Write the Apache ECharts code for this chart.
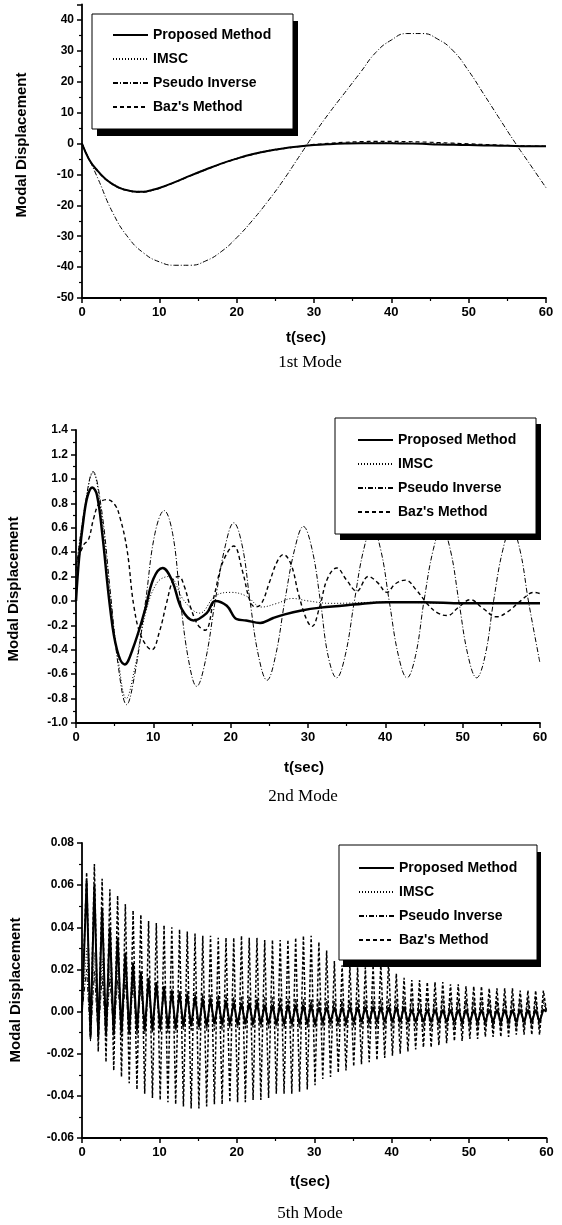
<!DOCTYPE html>
<html><head><meta charset="utf-8">
<script src="https://cdn.jsdelivr.net/npm/echarts@6.0.0/dist/echarts.min.js"></script>
<style>html,body{margin:0;padding:0;background:#fff}#c{width:562px;height:1225px}</style>
</head><body><div id="c"></div>
<script>
const seriesNames = ['Proposed Method', 'IMSC', 'Pseudo Inverse', "Baz's Method"];
const xTicks = [0, 10, 20, 30, 40, 50, 60];

// ---------- Panel 1 (1st Mode) ----------
const p1T = [0,1,2,3,4,5,6,7,8,9,10,12,14,16,18,20,22,24,26,28,30,32,34,36,38,40,42,44,46,48,50,52,54,56,58,60];
const p1Proposed = [0,-5.5,-8.8,-11.4,-13.2,-14.5,-15.2,-15.6,-15.6,-15.1,-14.4,-12.5,-10.4,-8.4,-6.5,-4.9,-3.5,-2.4,-1.6,-1.0,-0.5,-0.2,0,0.1,0.1,0.1,0,-0.1,-0.3,-0.4,-0.5,-0.6,-0.7,-0.8,-0.9,-0.9];
const p1IMSC = [0,-5.3,-8.6,-11.2,-13.0,-14.3,-15.1,-15.5,-15.5,-15.0,-14.3,-12.4,-10.3,-8.3,-6.4,-4.8,-3.4,-2.3,-1.5,-0.9,-0.4,-0.1,0.1,0.2,0.3,0.3,0.2,0.1,0,-0.2,-0.3,-0.5,-0.6,-0.7,-0.8,-0.9];
const p1Baz = [0,-5.6,-8.9,-11.5,-13.3,-14.6,-15.3,-15.7,-15.7,-15.2,-14.5,-12.6,-10.5,-8.5,-6.6,-5.0,-3.6,-2.5,-1.7,-1.0,-0.3,0.1,0.4,0.6,0.7,0.7,0.6,0.5,0.3,0.1,-0.1,-0.3,-0.5,-0.7,-0.8,-0.9];
const p1PseT = [0,2,4,6,8,10,12,14,16,18,20,22,24,26,28,30,32,34,36,38,40,42,44,46,48,50,52,54,56,58,60];
const p1Pseudo = [0,-11,-22.5,-30.5,-35.5,-38.3,-39.4,-39.4,-38,-35,-30.5,-25,-18.8,-12,-4.5,3,10,16.5,23,29.5,33.5,35.6,35.6,33.8,30,23.5,15.8,8,0.3,-7,-14.3];

// ---------- Panel 2 (2nd Mode) ----------
const p2PropT = [0,0.4,1,1.5,2.1,2.7,3.4,4.4,5.3,6.3,7.3,8.9,10,11.2,12.4,13.7,15.2,16.9,18,19.5,20.8,22,23.8,25.5,27,29,31.6,35.9,40.2,45,50,55,60];
const p2Prop = [0,0.35,0.68,0.86,0.93,0.87,0.55,-0.05,-0.4,-0.52,-0.4,-0.08,0.18,0.27,0.17,-0.07,-0.16,-0.1,0.0,-0.04,-0.15,-0.16,-0.18,-0.14,-0.11,-0.08,-0.055,-0.03,-0.01,-0.01,-0.02,-0.02,-0.02];
const p2ImscT = [0,1.1,2.2,3.3,4.4,5.5,6.5,7.6,9,10.5,12,14,16,18,20,22,24,26,28,30,33,40,50,60];
const p2Imsc = [0.25,0.75,1.05,0.7,0.05,-0.5,-0.8,-0.55,-0.1,0.15,0.2,0.0,-0.1,0.04,0.07,0.04,-0.05,-0.02,0.02,0.0,-0.02,-0.01,-0.02,-0.02];
const p2PseT = [0,1.1,2.2,3.3,4.4,5.5,6.55,7.6,9,10.2,11.4,12.5,13.5,14.6,15.6,16.7,18,19.3,20.4,21.5,22.5,23.6,24.7,25.8,27,28.3,29.4,30.5,31.6,32.6,33.7,34.8,36,37.2,38.3,39.4,40.5,41.7,42.8,43.9,45,46.2,47.3,48.4,49.5,50.7,51.8,52.9,54,55.2,56.3,57.4,58.5,60];
const p2Pse = [0.25,0.75,1.06,0.75,0.1,-0.55,-0.85,-0.6,0.0,0.55,0.74,0.55,0.0,-0.5,-0.7,-0.5,0.0,0.45,0.64,0.45,0.0,-0.45,-0.65,-0.45,0.0,0.43,0.61,0.43,0.0,-0.45,-0.63,-0.45,0.0,0.42,0.6,0.42,0.0,-0.45,-0.63,-0.45,0.0,0.42,0.6,0.42,0.0,-0.45,-0.63,-0.45,0.0,0.42,0.6,0.42,0.0,-0.51];
const p2BazT = [0,1,1.6,2.3,3,4,5,5.7,6.6,7.5,8.5,9.8,10.8,11.7,12.6,13.3,14,14.8,15.8,16.7,17.9,19,20.4,21.5,22.5,23.2,24,25,26,26.8,27.8,28.8,29.8,30.5,31.5,32.5,33.7,35,36.3,37.8,39,40.2,41.3,42.6,44,45.5,46.8,48,49.5,51,52.6,54.4,55.8,57.5,59.2,60];
const p2Baz = [0.3,0.46,0.5,0.68,0.8,0.83,0.79,0.68,0.42,-0.05,-0.3,-0.4,-0.25,-0.02,0.18,0.2,0.12,-0.05,-0.2,-0.24,0.05,0.32,0.45,0.25,0.0,-0.05,-0.02,0.15,0.32,0.38,0.3,0.05,-0.15,-0.21,-0.05,0.18,0.27,0.17,0.08,0.2,0.15,0.07,0.14,0.17,0.09,-0.03,-0.1,-0.12,-0.05,0.01,-0.06,-0.13,-0.09,0.0,0.07,0.06];

// ---------- Panel 3 (5th Mode): peaks / troughs of the fast oscillation ----------
const p3PeakT = [0.6,1.6,2.6,3.6,4.6,5.6,6.6,7.6,8.6,9.6,10.6,11.6,12.6,13.6,14.6,15.6,16.6,17.6,18.6,19.6,20.6,21.6,22.6,23.6,24.6,25.6,26.6,27.6,28.6,29.6,30.6,31.6,32.6,33.6,34.6,35.6,36.6,37.6,38.6,39.6,40.6,41.6,42.6,43.6,44.6,45.6,46.6,47.6,48.6,49.6,50.6,51.6,52.6,53.6,54.6,55.6,56.6,57.6,58.6,59.6];
const p3TroughT = [1.1,2.1,3.1,4.1,5.1,6.1,7.1,8.1,9.1,10.1,11.1,12.1,13.1,14.1,15.1,16.1,17.1,18.1,19.1,20.1,21.1,22.1,23.1,24.1,25.1,26.1,27.1,28.1,29.1,30.1,31.1,32.1,33.1,34.1,35.1,36.1,37.1,38.1,39.1,40.1,41.1,42.1,43.1,44.1,45.1,46.1,47.1,48.1,49.1,50.1,51.1,52.1,53.1,54.1,55.1,56.1,57.1,58.1,59.1];
const p3PropPeaks = [0.062,0.060,0.049,0.040,0.035,0.028,0.023,0.019,0.016,0.014,0.012,0.010,0.009,0.008,0.007,0.006,0.006,0.005,0.005,0.004,0.004,0.004,0.004,0.003,0.003,0.003,0.003,0.003,0.003,0.003,0.002,0.002,0.002,0.002,0.002,0.002,0.002,0.002,0.002,0.002,0.002,0.002,0.001,0.001,0.001,0.001,0.001,0.001,0.001,0.001,0.001,0.001,0.001,0.001,0.001,0.001,0.001,0.001,0.001,0.001];
const p3PropTroughs = [-0.012,-0.012,-0.011,-0.011,-0.010,-0.010,-0.009,-0.009,-0.009,-0.008,-0.008,-0.008,-0.007,-0.007,-0.007,-0.007,-0.006,-0.006,-0.006,-0.006,-0.006,-0.006,-0.006,-0.006,-0.006,-0.006,-0.006,-0.006,-0.006,-0.006,-0.005,-0.005,-0.005,-0.005,-0.005,-0.005,-0.005,-0.005,-0.005,-0.005,-0.005,-0.005,-0.005,-0.005,-0.005,-0.005,-0.005,-0.005,-0.005,-0.005,-0.005,-0.005,-0.005,-0.005,-0.005,-0.005,-0.005,-0.005,-0.005];
const p3ImscPeaks = [0.030,0.028,0.025,0.022,0.020,0.018,0.016,0.015,0.014,0.013,0.012,0.011,0.010,0.010,0.009,0.009,0.008,0.008,0.008,0.007,0.007,0.007,0.007,0.006,0.006,0.006,0.006,0.006,0.006,0.006,0.005,0.005,0.005,0.005,0.005,0.005,0.005,0.005,0.005,0.005,0.005,0.005,0.005,0.005,0.005,0.005,0.005,0.005,0.005,0.005,0.004,0.004,0.004,0.004,0.004,0.004,0.004,0.004,0.004,0.004];
const p3ImscTroughs = [-0.010,-0.010,-0.010,-0.009,-0.009,-0.009,-0.009,-0.008,-0.008,-0.008,-0.008,-0.008,-0.007,-0.007,-0.007,-0.007,-0.007,-0.007,-0.007,-0.007,-0.006,-0.006,-0.006,-0.006,-0.006,-0.006,-0.006,-0.006,-0.006,-0.006,-0.006,-0.006,-0.006,-0.006,-0.006,-0.006,-0.006,-0.006,-0.006,-0.006,-0.006,-0.006,-0.006,-0.006,-0.006,-0.006,-0.006,-0.006,-0.006,-0.006,-0.006,-0.006,-0.006,-0.006,-0.006,-0.006,-0.006,-0.006,-0.006];
const p3PsePeaks = [0.020,0.019,0.017,0.016,0.015,0.014,0.013,0.012,0.011,0.011,0.010,0.010,0.009,0.009,0.009,0.008,0.008,0.008,0.008,0.007,0.007,0.007,0.007,0.007,0.007,0.007,0.006,0.006,0.006,0.006,0.006,0.006,0.006,0.006,0.006,0.006,0.006,0.006,0.006,0.006,0.006,0.006,0.006,0.006,0.006,0.006,0.006,0.006,0.006,0.006,0.006,0.006,0.006,0.006,0.006,0.006,0.006,0.006,0.006,0.006];
const p3PseTroughs = [-0.014,-0.013,-0.013,-0.012,-0.012,-0.011,-0.011,-0.011,-0.010,-0.010,-0.010,-0.010,-0.009,-0.009,-0.009,-0.009,-0.009,-0.009,-0.008,-0.008,-0.008,-0.008,-0.008,-0.008,-0.008,-0.008,-0.008,-0.008,-0.008,-0.008,-0.008,-0.008,-0.008,-0.008,-0.008,-0.008,-0.008,-0.008,-0.008,-0.008,-0.008,-0.008,-0.008,-0.008,-0.008,-0.008,-0.008,-0.008,-0.008,-0.008,-0.008,-0.008,-0.008,-0.008,-0.008,-0.008,-0.008,-0.008,-0.008];
const p3BazPeaks = [0.066,0.070,0.063,0.058,0.055,0.051,0.048,0.046,0.043,0.042,0.041,0.040,0.039,0.038,0.037,0.036,0.036,0.035,0.035,0.035,0.036,0.035,0.035,0.034,0.034,0.034,0.034,0.035,0.036,0.036,0.033,0.029,0.024,0.022,0.022,0.021,0.021,0.022,0.023,0.024,0.018,0.016,0.015,0.015,0.014,0.014,0.014,0.013,0.013,0.012,0.012,0.012,0.011,0.011,0.011,0.011,0.010,0.010,0.010,0.010];
const p3BazTroughs = [-0.013,-0.019,-0.024,-0.028,-0.031,-0.034,-0.037,-0.039,-0.041,-0.042,-0.043,-0.044,-0.045,-0.046,-0.046,-0.045,-0.044,-0.044,-0.043,-0.043,-0.043,-0.042,-0.042,-0.041,-0.039,-0.039,-0.039,-0.038,-0.037,-0.035,-0.032,-0.031,-0.029,-0.028,-0.026,-0.025,-0.024,-0.023,-0.022,-0.021,-0.020,-0.019,-0.018,-0.017,-0.017,-0.016,-0.015,-0.014,-0.014,-0.013,-0.013,-0.012,-0.012,-0.012,-0.012,-0.011,-0.011,-0.011,-0.011];

// ---------- helpers ----------
const SANS = "'Liberation Sans', Arial, Helvetica, sans-serif";
const SERIF = "'Liberation Serif', 'Times New Roman', serif";
function pairs(ts, vs) { return ts.map((t, i) => [t, vs[i]]); }
function osc(peaks, troughs) {
  const d = [[0, 0]];
  for (let k = 0; k < peaks.length; k++) {
    d.push([p3PeakT[k], peaks[k]]);
    if (k < troughs.length) d.push([p3TroughT[k], troughs[k]]);
  }
  d.push([60, 0]);
  return d;
}
const lineStyles = [
  { color: '#000', type: 'solid', width: 2 },
  { color: '#000', type: [1, 2], width: 1 },
  { color: '#000', type: [5, 2, 1, 2], width: 1 },
  { color: '#000', type: [4, 3], width: 1.2 }
];
function mkSeries(idx, data, gi, smooth, ls) {
  return {
    type: 'line', name: seriesNames[idx], data, xAxisIndex: gi, yAxisIndex: gi,
    symbol: 'none', showSymbol: false, smooth: smooth, silent: true,
    lineStyle: Object.assign({}, lineStyles[idx], ls || {}), itemStyle: { color: '#000' },
    z: 2, animation: false
  };
}
function xAxisCfg(gi) {
  return {
    type: 'value', gridIndex: gi, min: 0, max: 60, interval: 10,
    axisLine: { onZero: false, lineStyle: { color: '#000', width: 1.8 } },
    axisTick: { show: true, length: 5, lineStyle: { color: '#000', width: 1.5 } },
    minorTick: { show: true, splitNumber: 2, length: 3, lineStyle: { color: '#000', width: 1.2 } },
    axisLabel: { color: '#000', fontSize: 13, fontWeight: 'bold', fontFamily: SANS, margin: 8,
      formatter: v => (xTicks.indexOf(v) >= 0 ? String(v) : '') },
    splitLine: { show: false }
  };
}
function yAxisCfg(gi, min, max, interval, dec, showMax) {
  return {
    type: 'value', gridIndex: gi, min, max, interval,
    axisLine: { onZero: false, lineStyle: { color: '#000', width: 1.8 } },
    axisTick: { show: true, length: 5, lineStyle: { color: '#000', width: 1.5 } },
    minorTick: { show: true, splitNumber: 2, length: 3, lineStyle: { color: '#000', width: 1.2 } },
    axisLabel: { color: '#000', fontSize: 12, fontWeight: 'bold', fontFamily: SANS, margin: 8,
      showMaxLabel: showMax, showMinLabel: true,
      formatter: v => Number(v).toFixed(dec) },
    splitLine: { show: false }
  };
}
function legendCfg(left, top, pad) {
  return {
    orient: 'vertical', left, top, data: seriesNames, selectedMode: false, z: 5,
    itemWidth: 35, itemHeight: 14, itemGap: 10, padding: pad,
    backgroundColor: 'transparent', borderWidth: 0,
    itemStyle: { opacity: 0, borderWidth: 0 },
    textStyle: { color: '#000', fontSize: 14, fontWeight: 'bold', fontFamily: SANS }
  };
}
function legendBox(x, y, w, h, dx, dy) {
  return [
    { type: 'rect', z: 3, silent: true, shape: { x: x + dx, y: y + dy, width: w, height: h }, style: { fill: '#000' } },
    { type: 'rect', z: 3, silent: true, shape: { x: x, y: y, width: w, height: h }, style: { fill: '#fff', stroke: '#000', lineWidth: 1 } }
  ];
}
function txt(x, y, text, style, rot) {
  return { type: 'text', x, y, rotation: rot || 0, silent: true, z: 3,
    style: Object.assign({ text, fill: '#000', align: 'center', verticalAlign: 'middle',
      fontFamily: SANS, fontSize: 15, fontWeight: 'bold' }, style || {}) };
}

const option = {
  backgroundColor: '#fff',
  animation: false,
  grid: [
    { left: 82, top: 4.5, width: 464, height: 293.5 },
    { left: 76, top: 430, width: 464, height: 293 },
    { left: 82, top: 843, width: 464.5, height: 295 }
  ],
  xAxis: [xAxisCfg(0), xAxisCfg(1), xAxisCfg(2)],
  yAxis: [
    yAxisCfg(0, -50, 45, 10, 0, false),
    yAxisCfg(1, -1.0, 1.4, 0.2, 1, true),
    yAxisCfg(2, -0.06, 0.08, 0.02, 2, true)
  ],
  legend: [
    legendCfg(92, 14, [14, 20, 10, 20]),
    legendCfg(335, 418, [15, 20, 10, 22]),
    legendCfg(339, 845, [16, 20, 10, 19])
  ],
  series: [
    mkSeries(1, pairs(p1T, p1IMSC), 0, 0.4),
    mkSeries(2, pairs(p1PseT, p1Pseudo), 0, 0.5),
    mkSeries(3, pairs(p1T, p1Baz), 0, 0.4),
    mkSeries(0, pairs(p1T, p1Proposed), 0, 0.4),

    mkSeries(1, pairs(p2ImscT, p2Imsc), 1, 0.4),
    mkSeries(2, pairs(p2PseT, p2Pse), 1, 0.4),
    mkSeries(3, pairs(p2BazT, p2Baz), 1, 0.4, { width: 1.4 }),
    mkSeries(0, pairs(p2PropT, p2Prop), 1, 0.4, { width: 2.5 }),

    mkSeries(1, osc(p3ImscPeaks, p3ImscTroughs), 2, false),
    mkSeries(2, osc(p3PsePeaks, p3PseTroughs), 2, false),
    mkSeries(3, osc(p3BazPeaks, p3BazTroughs), 2, false, { type: [3, 2], width: 1.5 }),
    mkSeries(0, osc(p3PropPeaks, p3PropTroughs), 2, false)
  ],
  graphic: [].concat(
    legendBox(92, 14, 201, 115, 5, 7),
    legendBox(335, 418, 201, 116, 5, 6),
    legendBox(339, 845, 198, 115, 4, 7),
    [
      txt(22, 145, 'Modal Displacement', null, Math.PI / 2),
      txt(14, 589, 'Modal Displacement', null, Math.PI / 2),
      txt(16, 990, 'Modal Displacement', null, Math.PI / 2),
      txt(306, 338, 't(sec)'),
      txt(304, 768, 't(sec)'),
      txt(310, 1182, 't(sec)'),
      txt(310, 363, '1st Mode', { fontFamily: SERIF, fontWeight: 'normal', fontSize: 17 }),
      txt(303, 797, '2nd Mode', { fontFamily: SERIF, fontWeight: 'normal', fontSize: 17 }),
      txt(310, 1214, '5th Mode', { fontFamily: SERIF, fontWeight: 'normal', fontSize: 17 })
    ]
  )
};
const chart = echarts.init(document.getElementById('c'), null, { renderer: 'canvas' });
chart.setOption(option);
</script>
</body></html>
